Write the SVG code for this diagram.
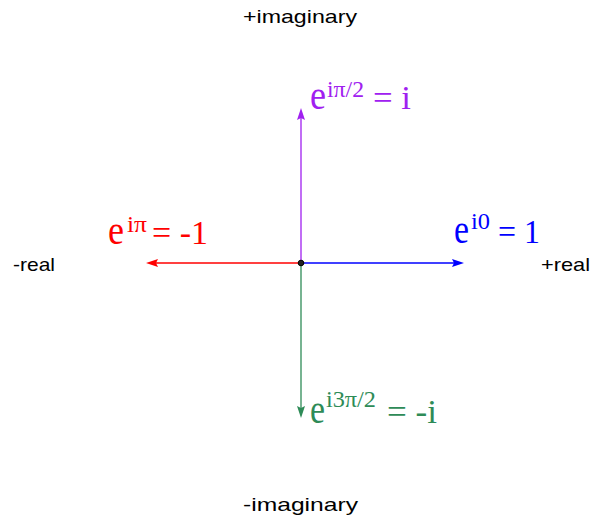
<svg xmlns="http://www.w3.org/2000/svg" width="595" height="523" viewBox="0 0 595 523">
<defs>
<style>
.lbl{font-family:"Liberation Sans",Arial,sans-serif;font-size:19px;fill:#000}
.e{font-family:"Liberation Serif","Times New Roman",serif;font-size:43px}
.m{font-family:"Liberation Serif","Times New Roman",serif;font-size:34px}
.s{font-family:"Liberation Serif","Times New Roman",serif;font-size:23px}
.ax{stroke-width:1.3;fill:none}
</style>
<marker id="ab" markerUnits="userSpaceOnUse" markerWidth="12" markerHeight="8" refX="6" refY="4" orient="auto"><path d="M0,0 L12,4 L0,8 L2,4 z" fill="#0000ff"/></marker>
<marker id="ar" markerUnits="userSpaceOnUse" markerWidth="12" markerHeight="8" refX="6" refY="4" orient="auto"><path d="M0,0 L12,4 L0,8 L2,4 z" fill="#ff0000"/></marker>
<marker id="ap" markerUnits="userSpaceOnUse" markerWidth="12" markerHeight="8" refX="6" refY="4" orient="auto"><path d="M0,0 L12,4 L0,8 L2,4 z" fill="#a020f0"/></marker>
<marker id="ag" markerUnits="userSpaceOnUse" markerWidth="12" markerHeight="8" refX="6" refY="4" orient="auto"><path d="M0,0 L12,4 L0,8 L2,4 z" fill="#2e8b57"/></marker>
</defs>
<rect width="595" height="523" fill="#fff"/>
<g id="connectors">
<line class="ax" x1="301" y1="263" x2="458" y2="263" stroke="#0000ff" marker-end="url(#ab)"/>
<line class="ax" x1="301" y1="263" x2="152" y2="263" stroke="#ff0000" marker-end="url(#ar)"/>
<line class="ax" x1="301" y1="263" x2="301" y2="114" stroke="#a020f0" marker-end="url(#ap)"/>
<line class="ax" x1="301" y1="263" x2="301" y2="412" stroke="#2e8b57" marker-end="url(#ag)"/>
</g>
<g id="origin"><circle cx="301" cy="263" r="2.8" fill="#222" stroke="#000" stroke-width="1"/></g>
<g id="label-plus-imaginary"><text class="lbl" x="243" y="23" textLength="114" lengthAdjust="spacingAndGlyphs">+imaginary</text></g>
<g id="label-minus-imaginary"><text class="lbl" x="243" y="511" textLength="115" lengthAdjust="spacingAndGlyphs">-imaginary</text></g>
<g id="label-minus-real"><text class="lbl" x="13" y="271" textLength="42" lengthAdjust="spacingAndGlyphs">-real</text></g>
<g id="label-plus-real"><text class="lbl" x="541" y="271" textLength="49" lengthAdjust="spacingAndGlyphs">+real</text></g>
<g id="node-i" fill="#a020f0">
<text class="e" x="310" y="109" textLength="16" lengthAdjust="spacingAndGlyphs">e</text>
<text class="s" x="327" y="97" textLength="37" lengthAdjust="spacingAndGlyphs">iπ/2</text>
<text class="m" x="373" y="109" textLength="38" lengthAdjust="spacingAndGlyphs">= i</text>
</g>
<g id="node-minus-1" fill="#ff0000">
<text class="e" x="108" y="244" textLength="16" lengthAdjust="spacingAndGlyphs">e</text>
<text class="s" x="127" y="232" textLength="20" lengthAdjust="spacingAndGlyphs">iπ</text>
<text class="m" x="152" y="244" textLength="56" lengthAdjust="spacingAndGlyphs">= -1</text>
</g>
<g id="node-1" fill="#0000ff">
<text class="e" x="454" y="243" textLength="15" lengthAdjust="spacingAndGlyphs">e</text>
<text class="s" x="471" y="229" textLength="19" lengthAdjust="spacingAndGlyphs">i0</text>
<text class="m" x="498" y="243" textLength="42" lengthAdjust="spacingAndGlyphs">= 1</text>
</g>
<g id="node-minus-i" fill="#2e8b57">
<text class="e" x="310" y="423" textLength="15" lengthAdjust="spacingAndGlyphs">e</text>
<text class="s" x="326" y="407" textLength="50" lengthAdjust="spacingAndGlyphs">i3π/2</text>
<text class="m" x="387" y="423" textLength="50" lengthAdjust="spacingAndGlyphs">= -i</text>
</g>
</svg>
